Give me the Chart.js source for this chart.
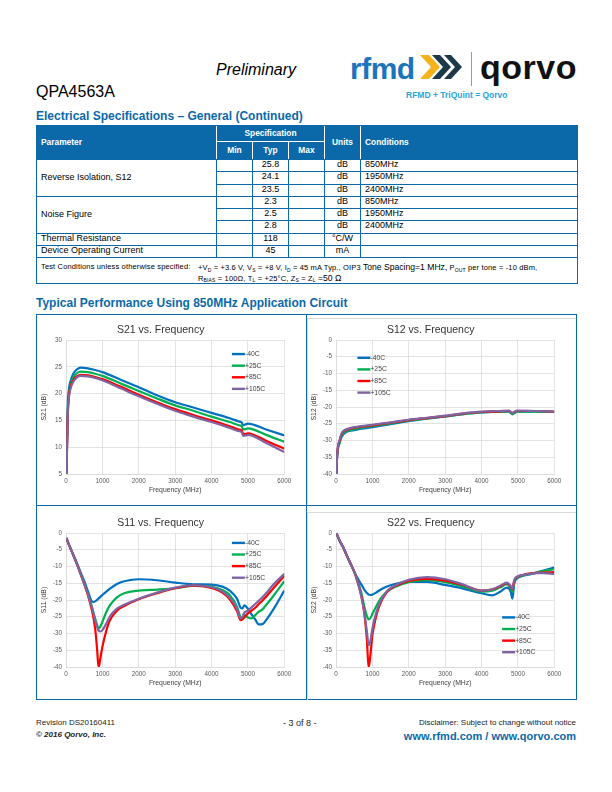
<!DOCTYPE html>
<html>
<head>
<meta charset="utf-8">
<script src="https://cdn.jsdelivr.net/npm/chart.js@4.4.1/dist/chart.umd.min.js"></script>
<style>
body{margin:0;width:612px;height:792px;position:relative;background:#fff;font-family:"Liberation Sans",Arial,sans-serif;color:#000;overflow:hidden}
.t{position:absolute;white-space:nowrap;line-height:1}
.blue{color:#0b69aa}
#spec{position:absolute;left:36px;top:125px;width:540px;border:1px solid #0b69aa;border-spacing:0;table-layout:fixed;font-size:9px;line-height:1;box-sizing:border-box}
#spec th{background:#0b69aa;color:#fff;font-size:8.4px;font-weight:bold;padding:0;border-right:1px solid #fff;box-sizing:border-box}
#spec th.last{border-right:none}
#spec th.sp{border-bottom:1px solid #fff}
#spec tr.h1 th{height:16px}
#spec tr.h2 th{height:17px}
#spec td{padding:0;text-align:center;border-right:1px solid #0b69aa;border-top:1px solid #0b69aa;height:12.25px;box-sizing:border-box;vertical-align:top}
#spec td.last{border-right:none}
#spec .l{text-align:left;padding-left:4px}
#spec td.mid{vertical-align:middle}
#spec td.tc{height:26px;font-size:7.5px;position:relative;text-align:left;letter-spacing:0.15px}
#spec sub{font-size:5px;vertical-align:baseline;position:relative;top:1.6px;line-height:0}
.gline{position:absolute;background:#0b69aa}
canvas{position:absolute}
.frame{position:absolute;border-top:1px solid #d9d9d9;border-left:1px solid #d9d9d9}
</style>
</head>
<body>

<div class="t" style="left:216px;top:62px;font-size:16px;font-style:italic">Preliminary</div>
<div class="t" style="left:36px;top:84px;font-size:16px">QPA4563A</div>

<div class="t" style="left:350px;top:54px;font-size:30px;font-weight:bold;color:#1b75bb;letter-spacing:-0.5px">rfmd</div>
<svg style="position:absolute;left:420px;top:53px" width="48" height="30" viewBox="0 0 48 30">
  <polygon points="0,2 9,2 20,14 9,26 0,26 11,14" fill="#f6b21b"/>
  <polygon points="12,2 20,2 31,14 20,26 12,26 23,14" fill="#1d3849"/>
  <polygon points="24,2 31,2 42,14 31,26 24,26 35,14" fill="#1d3849"/>
</svg>
<div style="position:absolute;left:471px;top:52px;width:1px;height:34px;background:#9a9a9a"></div>
<div class="t" style="left:480px;top:50px;font-size:34px;font-weight:bold;color:#111;letter-spacing:0.5px">qorvo</div>
<div class="t" style="left:406px;top:91px;font-size:8.5px;font-weight:bold;color:#2aa3de">RFMD + TriQuint = Qorvo</div>

<div class="t blue" style="left:36px;top:109.5px;font-size:12px;font-weight:bold">Electrical Specifications – General (Continued)</div>

<table id="spec">
<colgroup><col style="width:180px"><col style="width:36px"><col style="width:36px"><col style="width:36px"><col style="width:36px"><col style="width:216px"></colgroup>
<tr class="h1"><th rowspan="2" class="l">Parameter</th><th colspan="3" class="sp">Specification</th><th rowspan="2">Units</th><th rowspan="2" class="l last">Conditions</th></tr>
<tr class="h2"><th>Min</th><th>Typ</th><th>Max</th></tr>
<tr><td rowspan="3" class="l mid">Reverse Isolation, S12</td><td></td><td>25.8</td><td></td><td>dB</td><td class="l last">850MHz</td></tr>
<tr><td></td><td>24.1</td><td></td><td>dB</td><td class="l last">1950MHz</td></tr>
<tr><td></td><td>23.5</td><td></td><td>dB</td><td class="l last">2400MHz</td></tr>
<tr><td rowspan="3" class="l mid">Noise Figure</td><td></td><td>2.3</td><td></td><td>dB</td><td class="l last">850MHz</td></tr>
<tr><td></td><td>2.5</td><td></td><td>dB</td><td class="l last">1950MHz</td></tr>
<tr><td></td><td>2.8</td><td></td><td>dB</td><td class="l last">2400MHz</td></tr>
<tr><td class="l">Thermal Resistance</td><td></td><td>118</td><td></td><td>°C/W</td><td class="l last"></td></tr>
<tr><td class="l">Device Operating Current</td><td></td><td>45</td><td></td><td>mA</td><td class="l last"></td></tr>
<tr><td colspan="6" class="tc last">
<span class="t" style="left:4px;top:5px">Test Conditions unless otherwise specified:</span>
<span class="t" style="left:161px;top:5px">+V<sub>D</sub> = +3.6 V, V<sub>S</sub> = +8 V, I<sub>D</sub> = 45 mA Typ., OIP3 <span style="font-size:8.6px;letter-spacing:0">Tone Spacing=1 MHz,</span> P<sub>OUT</sub> per tone = -10 dBm,</span>
<span class="t" style="left:161px;top:15.5px">R<sub>BIAS</sub> = 100Ω, T<sub>L</sub> = +25°C, Z<sub>S</sub> = Z<sub>L</sub> <span style="font-size:8.6px;letter-spacing:0">=50 Ω</span></span>
</td></tr>
</table>

<div class="t blue" style="left:36px;top:297px;font-size:12px;font-weight:bold">Typical Performance Using 850MHz Application Circuit</div>

<div class="gline" style="left:36px;top:314px;width:541px;height:1.3px"></div>
<div class="gline" style="left:36px;top:699px;width:541px;height:1.3px"></div>
<div class="gline" style="left:36px;top:314px;width:1.3px;height:386px"></div>
<div class="gline" style="left:575.7px;top:314px;width:1.3px;height:386px"></div>
<div class="gline" style="left:305.5px;top:314px;width:1.3px;height:386px"></div>
<div class="gline" style="left:36px;top:505px;width:541px;height:1.3px"></div>
<div class="frame" style="left:307px;top:318px;width:268px;height:186px"></div>
<div class="frame" style="left:307px;top:512px;width:268px;height:187px"></div>

<canvas id="cS21" width="268" height="190" style="left:37px;top:315px"></canvas>
<canvas id="cS12" width="268" height="190" style="left:307px;top:315px"></canvas>
<canvas id="cS11" width="268" height="190" style="left:37px;top:508px"></canvas>
<canvas id="cS22" width="268" height="190" style="left:307px;top:508px"></canvas>

<div class="t" style="left:36px;top:719px;font-size:8px;color:#222">Revision DS20160411</div>
<div class="t" style="left:36px;top:731px;font-size:8px;font-style:italic;font-weight:bold;color:#222">© 2016 Qorvo, Inc.</div>
<div class="t" style="left:283px;top:718.5px;font-size:9px;color:#222">- 3 of 8 -</div>
<div class="t" style="right:36px;top:719px;font-size:8px;color:#222">Disclaimer: Subject to change without notice</div>
<div class="t blue" style="right:36px;top:731px;font-size:11px;font-weight:bold">www.rfmd.com / www.qorvo.com</div>

<script>
/* series names and colours */
const tempLabels = ['-40C', '+25C', '+85C', '+105C'];
const tempColors = ['#0070c0', '#00b050', '#ff0000', '#8064a2'];

/* S21 vs frequency */
const freqS21 = [10, 30, 50, 80, 120, 200, 300, 400, 600, 800, 1000, 1500, 2000, 2500, 3000, 3500, 4000, 4500, 4750, 4830, 4870, 4950, 5000, 5500, 6000];
const s21m40  = [5, 12, 18, 20.8, 22.2, 23.7, 24.5, 24.85, 24.7, 24.4, 24.0, 22.6, 21.2, 19.7, 18.4, 17.4, 16.4, 15.4, 14.8, 14.6, 14.1, 14.3, 14.4, 13.3, 12.2];
const s21p25  = [5, 11, 17, 20.0, 21.5, 23.0, 23.8, 24.1, 24.0, 23.7, 23.3, 21.9, 20.5, 19.1, 17.8, 16.8, 15.7, 14.7, 14.1, 13.9, 13.3, 13.4, 13.5, 12.3, 11.0];
const s21p85  = [5, 10.5, 16.5, 19.6, 21.2, 22.5, 23.2, 23.5, 23.4, 23.1, 22.7, 21.3, 19.8, 18.4, 17.1, 16.0, 15.0, 13.9, 13.3, 13.1, 12.5, 12.5, 12.6, 11.2, 9.7];
const s21p105 = [5, 10, 16, 19.2, 20.8, 22.2, 23.0, 23.3, 23.2, 22.9, 22.5, 21.0, 19.5, 18.1, 16.8, 15.7, 14.7, 13.6, 13.0, 12.8, 12.1, 12.2, 12.3, 10.8, 9.1];

/* S12 vs frequency */
const freqS12 = [10, 30, 60, 100, 150, 200, 300, 500, 700, 1000, 1500, 2000, 2500, 3000, 3500, 4000, 4500, 4750, 4850, 4900, 5000, 5500, 6000];
const s12m40  = [-40, -35, -32, -30.5, -29, -28.2, -27.4, -26.9, -26.5, -26.0, -25.1, -24.2, -23.5, -22.8, -22.1, -21.6, -21.4, -21.4, -22.0, -21.7, -21.4, -21.4, -21.5];
const s12p25  = [-40, -35, -32, -30.8, -28.8, -27.9, -27.2, -26.6, -26.2, -25.7, -24.9, -24.1, -23.4, -22.8, -22.1, -21.6, -21.4, -21.3, -22.2, -21.8, -21.4, -21.4, -21.5];
const s12p85  = [-40, -34.5, -31.5, -30.0, -28.2, -27.4, -26.8, -26.2, -25.9, -25.5, -24.7, -23.9, -23.3, -22.7, -22.0, -21.5, -21.3, -21.2, -21.8, -21.5, -21.2, -21.2, -21.4];
const s12p105 = [-40, -34.5, -31.5, -29.8, -28.0, -27.2, -26.6, -26.0, -25.7, -25.3, -24.6, -23.8, -23.2, -22.6, -21.9, -21.4, -21.2, -21.1, -21.8, -21.4, -21.1, -21.2, -21.4];

/* S11 vs frequency */
const freqS11 = [10, 100, 200, 300, 400, 500, 600, 700, 750, 800, 850, 880, 900, 950, 1000, 1100, 1200, 1400, 1600, 2000, 2500, 3000, 3500, 4000, 4300, 4500, 4700, 4800, 4850, 4900, 5000, 5100, 5200, 5300, 5400, 5500, 5700, 6000];
const s11m40  = [-1.5, -4, -6.5, -9, -11.7, -14.3, -17.3, -20.3, -20.6, -20.4, -20.0, -19.7, -19.5, -19.0, -18.5, -17.6, -16.7, -15.2, -14.4, -13.8, -14.1, -14.8, -15.3, -15.4, -16.0, -17.2, -19.6, -22.3, -22.5, -21.6, -22.6, -24.3, -25.8, -27.3, -27.2, -26.0, -22.8, -17.2];
const s11p25  = [-1.5, -4, -6.5, -9.2, -12, -14.8, -18, -21.5, -23.5, -25.5, -27.3, -28.2, -28.5, -27.8, -26.5, -23.8, -21.7, -19.2, -18.0, -17.2, -16.9, -16.5, -15.8, -16.1, -17.0, -18.5, -22.0, -25.2, -25.6, -24.5, -25.2, -25.5, -24.5, -23.5, -22.8, -21.5, -18.8, -14.4];
const s11p85  = [-1.5, -4, -6.6, -9.3, -12.2, -15.2, -18.5, -22.5, -25, -28.5, -34, -38.5, -40, -37, -34, -29.5, -26.2, -23.2, -21.8, -19.8, -18.0, -16.5, -15.7, -16.4, -17.8, -19.8, -23.3, -26.0, -25.8, -25.2, -24.0, -23.2, -22.3, -21.2, -20.2, -19.0, -16.5, -12.8];
const s11p105 = [-1.5, -4, -6.6, -9.3, -12.2, -15.2, -18.3, -21.8, -23.8, -26, -27.8, -28.8, -29.2, -29.4, -29.0, -27.2, -25.0, -22.6, -21.4, -19.6, -17.8, -16.3, -15.6, -16.2, -17.5, -19.3, -22.6, -25.5, -25.0, -23.8, -23.2, -22.2, -21.2, -20.2, -19.2, -18.0, -15.4, -12.2];

/* S22 vs frequency */
const freqS22 = freqS11;
const s22m40  = [0, -2.3, -4.3, -6.8, -9.2, -11.5, -13.6, -15.5, -16.4, -17.3, -17.9, -18.2, -18.4, -18.5, -18.4, -17.8, -17.1, -16.0, -15.3, -14.6, -14.6, -15.5, -16.6, -18.0, -18.6, -17.6, -16.3, -17.5, -19.6, -15.0, -13.4, -12.9, -12.6, -12.4, -12.1, -11.8, -11.2, -10.3];
const s22p25  = [0, -2.3, -4.3, -6.8, -9.2, -11.5, -14.5, -18.0, -20.5, -23.0, -24.8, -25.6, -25.8, -25.3, -24.2, -22.0, -20.0, -17.5, -16.2, -14.7, -14.1, -14.7, -16.0, -17.5, -17.2, -16.3, -15.3, -16.5, -17.6, -14.6, -13.2, -12.8, -12.5, -12.3, -12.1, -11.9, -11.4, -10.8];
const s22p85  = [0, -2.3, -4.3, -6.8, -9.2, -11.5, -14.8, -19.0, -22.0, -26.0, -32.0, -38.0, -40.0, -36.0, -30.5, -25.0, -21.5, -17.6, -16.0, -14.3, -13.7, -14.2, -15.6, -17.2, -16.8, -16.0, -15.0, -16.0, -16.8, -14.2, -13.0, -12.6, -12.3, -12.1, -12.0, -11.9, -11.8, -11.7];
const s22p105 = [0, -2.3, -4.3, -6.8, -9.2, -11.5, -14.8, -19.0, -21.8, -25.5, -29.5, -32.5, -33.5, -32.0, -28.5, -24.0, -21.0, -17.4, -15.8, -14.0, -13.2, -13.8, -15.4, -17.2, -16.8, -15.8, -14.8, -15.8, -16.6, -14.0, -12.9, -12.6, -12.4, -12.2, -12.1, -12.0, -12.0, -12.2];

Chart.defaults.font.family = '"Liberation Sans", Arial, sans-serif';
Chart.defaults.devicePixelRatio = 1;

/* legend drawn inside the plot area, like the excel charts */
const insideLegend = {
  id: 'insideLegend',
  afterDatasetsDraw(chart, args, opts) {
    const {ctx, chartArea} = chart;
    const x0 = chartArea.left + opts.x * (chartArea.right - chartArea.left);
    let y = chartArea.top + opts.y * (chartArea.bottom - chartArea.top);
    ctx.save();
    ctx.font = '6.8px "Liberation Sans", Arial, sans-serif';
    ctx.textBaseline = 'middle';
    chart.data.datasets.forEach(ds => {
      ctx.strokeStyle = ds.borderColor;
      ctx.lineWidth = 2.4;
      ctx.beginPath();
      ctx.moveTo(x0, y);
      ctx.lineTo(x0 + 13, y);
      ctx.stroke();
      ctx.fillStyle = '#404040';
      ctx.fillText(ds.label, x0 + 13, y);
      y += 11.6;
    });
    ctx.restore();
  }
};

function makeChart(id, title, yTitle, yMin, yMax, freq, series, legendAt) {
  const datasets = series.map((vals, i) => ({
    label: tempLabels[i],
    data: freq.map((f, j) => ({x: f, y: vals[j]})),
    borderColor: tempColors[i],
    backgroundColor: tempColors[i],
    borderWidth: 2.2,
    pointRadius: 0,
    cubicInterpolationMode: 'monotone',
    order: 3 - i
  }));
  return new Chart(document.getElementById(id), {
    type: 'line',
    data: {datasets},
    plugins: [insideLegend],
    options: {
      responsive: false,
      animation: false,
      layout: {padding: {left: 0, right: 20.7, top: 0, bottom: 0}},
      plugins: {
        legend: {display: false},
        tooltip: {enabled: false},
        title: {display: true, text: title, color: '#333333', font: {size: 10.5, weight: 'normal'}, padding: {top: 9, bottom: 3.4}},
        insideLegend: legendAt
      },
      scales: {
        x: {
          type: 'linear', min: 0, max: 6000,
          afterFit: s => { s.height = 31; },
          ticks: {stepSize: 1000, color: '#595959', font: {size: 6.3}, padding: 3, maxRotation: 0, callback: v => String(v)},
          grid: {color: '#d9d9d9', lineWidth: 0.75, drawTicks: false},
          border: {color: '#d9d9d9', width: 0.75},
          title: {display: true, text: 'Frequency (MHz)', color: '#404040', font: {size: 6.8}, padding: {top: 0, bottom: 10.9}}
        },
        y: {
          min: yMin, max: yMax,
          afterFit: s => { s.width = 29; },
          ticks: {stepSize: 5, color: '#595959', font: {size: 6.3}, padding: 4, callback: v => String(v)},
          grid: {color: '#d9d9d9', lineWidth: 0.75, drawTicks: false},
          border: {color: '#d9d9d9', width: 0.75},
          title: {display: true, text: yTitle, color: '#404040', font: {size: 6.8}, padding: {top: 2.9, bottom: 0}}
        }
      }
    }
  });
}

makeChart('cS21', 'S21 vs. Frequency', 'S21 (dB)', 5, 30, freqS21, [s21m40, s21p25, s21p85, s21p105], {x: 0.76, y: 0.105});
makeChart('cS12', 'S12 vs. Frequency', 'S12 (dB)', -40, 0, freqS12, [s12m40, s12p25, s12p85, s12p105], {x: 0.098, y: 0.133});
makeChart('cS11', 'S11 vs. Frequency', 'S11 (dB)', -40, 0, freqS11, [s11m40, s11p25, s11p85, s11p105], {x: 0.76, y: 0.074});
makeChart('cS22', 'S22 vs. Frequency', 'S22 (dB)', -40, 0, freqS22, [s22m40, s22p25, s22p85, s22p105], {x: 0.761, y: 0.63});
</script>
</body>
</html>
